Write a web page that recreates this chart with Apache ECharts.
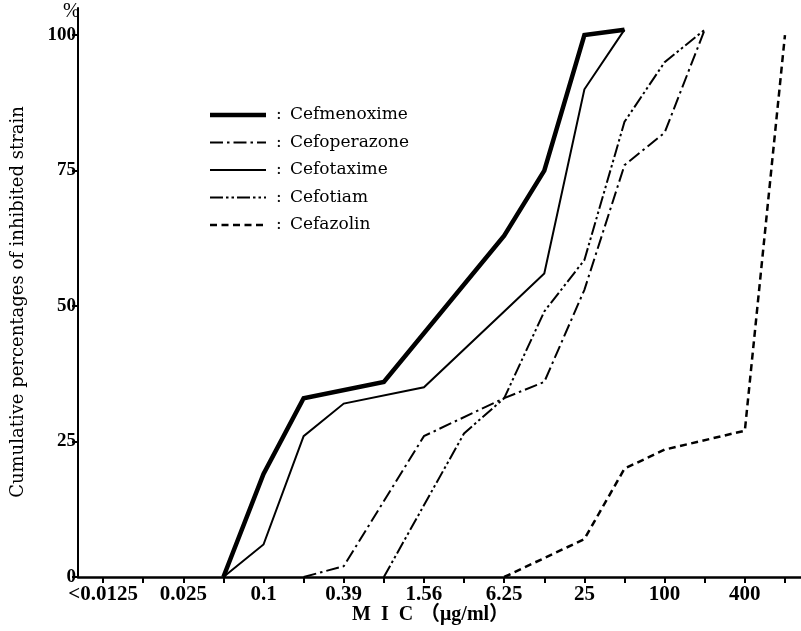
<!DOCTYPE html>
<html>
<head>
<meta charset="utf-8">
<script src="https://cdn.jsdelivr.net/npm/echarts@6/dist/echarts.min.js"></script>
<style>
  html, body { margin: 0; padding: 0; background: #fff; }
  #chart { width: 801px; height: 631px; }
</style>
</head>
<body>
<div id="chart"></div>
<script>
// MIC steps (µg/ml), one per twofold dilution
const micSteps = ['<0.0125', '0.0125', '0.025', '0.05', '0.1', '0.2', '0.39', '0.78', '1.56',
                  '3.13', '6.25', '12.5', '25', '50', '100', '200', '400', '800'];
// steps that carry a printed label
const labelledSteps = [0, 2, 4, 6, 8, 10, 12, 14, 16];
const yTicks = [0, 25, 50, 75, 100];

// cumulative percentage of inhibited strains at each MIC step (null = no plotted point)
const cefmenoxime  = [null, null, null, 0, 19, 33, null, 36, null, null, 63, 75, 100, 101, null, null, null, null];
const cefoperazone = [null, null, null, null, null, 0, 2, null, 26, null, 33, 36, 53, 76, 82, 101, null, null];
const cefotaxime   = [null, null, null, 0, 6, 26, 32, null, 35, null, 49, 56, 90, 101, null, null, null, null];
const cefotiam     = [null, null, null, null, null, null, null, 0, null, 26.5, 33, 49, 58.5, 84, 95, 101, null, null];
const cefazolin    = [null, null, null, null, null, null, null, null, null, null, 0, null, 7, 20, 23.5, null, 27, 100];

const drugNames = ['Cefmenoxime', 'Cefoperazone', 'Cefotaxime', 'Cefotiam', 'Cefazolin'];

const serif = "'DejaVu Serif', 'Liberation Serif', serif";
const numFont = "'Liberation Serif', 'DejaVu Serif', serif";

// line style per drug: [width, dash pattern or null]
const styles = {
  Cefmenoxime:  [4.5, null],
  Cefoperazone: [2, [13, 4, 2.5, 4]],
  Cefotaxime:   [2, null],
  Cefotiam:     [2, [13, 3, 2.5, 3, 2.5, 3]],
  Cefazolin:    [2.5, [7, 4.5]]
};
const valuesByDrug = {
  Cefmenoxime: cefmenoxime, Cefoperazone: cefoperazone, Cefotaxime: cefotaxime,
  Cefotiam: cefotiam, Cefazolin: cefazolin
};

const toPoints = arr => arr.map((v, i) => [i, v]);

function lineSeries(name) {
  const [w, dash] = styles[name];
  return {
    name: name,
    type: 'line',
    data: toPoints(valuesByDrug[name]),
    connectNulls: true,
    symbol: 'none',
    silent: true,
    animation: false,
    lineStyle: { color: '#000', width: w, type: dash || 'solid', cap: 'butt', join: 'miter' }
  };
}

// key block: sample line, colon, drug name
function keyGraphics() {
  const out = [];
  drugNames.forEach((name, i) => {
    const [w, dash] = styles[name];
    const y = 115 + 27.5 * i;
    out.push({
      type: 'line', silent: true,
      shape: { x1: 210, y1: y, x2: 266, y2: y },
      style: { stroke: '#000', lineWidth: w, lineDash: dash || null }
    });
    out.push({
      type: 'text', x: 276, y: y,
      style: { text: ':', fill: '#000', font: "17px " + serif, align: 'left', verticalAlign: 'middle' }
    });
    out.push({
      type: 'text', x: 290, y: y,
      style: { text: name, fill: '#000', font: "17px " + serif, align: 'left', verticalAlign: 'middle' }
    });
  });
  return out;
}

const chart = echarts.init(document.getElementById('chart'), null, { renderer: 'canvas' });

chart.setOption({
  backgroundColor: '#fff',
  animation: false,
  grid: { left: 78, right: 0, top: 8, bottom: 54, containLabel: false },
  xAxis: {
    type: 'value',
    min: -0.625,
    max: 17.4,
    axisLine: { show: true, onZero: false, lineStyle: { color: '#000', width: 2.5 } },
    splitLine: { show: false },
    axisTick: {
      show: true, inside: false, length: 6,
      customValues: micSteps.map((_, i) => i),
      lineStyle: { color: '#000', width: 2 }
    },
    axisLabel: {
      customValues: labelledSteps,
      formatter: v => micSteps[Math.round(v)],
      margin: 7,
      color: '#000',
      fontFamily: numFont,
      fontWeight: 'bold',
      fontSize: 21
    }
  },
  yAxis: {
    type: 'value',
    min: 0,
    max: 105,
    axisLine: { show: true, onZero: false, lineStyle: { color: '#000', width: 2 } },
    splitLine: { show: false },
    axisTick: {
      show: true, inside: false, length: 6,
      customValues: yTicks,
      lineStyle: { color: '#000', width: 2 }
    },
    axisLabel: {
      customValues: yTicks,
      margin: 2,
      color: '#000',
      fontFamily: numFont,
      fontWeight: 'bold',
      fontSize: 19
    }
  },
  graphic: [
    {
      type: 'text', left: 63, top: 2,
      style: { text: '%', fill: '#000', font: "20px " + numFont }
    },
    {
      type: 'text', x: 352, y: 615,
      style: {
        text: 'M  I  C', fill: '#000',
        font: "bold 20px 'Liberation Serif', serif",
        align: 'left', verticalAlign: 'middle'
      }
    },
    {
      type: 'text', x: 420, y: 615,
      style: {
        text: '（μg/ml）', fill: '#000',
        font: "bold 20px 'Liberation Serif', 'Noto Sans CJK JP', serif",
        align: 'left', verticalAlign: 'middle'
      }
    },
    {
      type: 'text', x: 18, y: 302, rotation: Math.PI / 2,
      style: {
        text: 'Cumulative percentages of inhibited strain', fill: '#000',
        font: "18px " + serif,
        align: 'center', verticalAlign: 'middle'
      }
    }
  ].concat(keyGraphics()),
  series: drugNames.map(lineSeries)
});
</script>
</body>
</html>
